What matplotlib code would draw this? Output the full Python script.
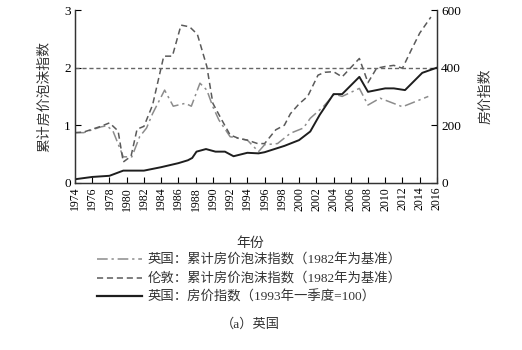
import matplotlib
matplotlib.use("Agg")
import matplotlib.pyplot as plt
from matplotlib.lines import Line2D

FONT = ["Liberation Serif", "Noto Sans CJK SC"]
plt.rcParams["font.family"] = FONT
plt.rcParams["font.weight"] = "light"

# UK cumulative house-price bubble index (1982 base)
uk_bubble_years = [1974, 1975, 1976, 1977, 1977.7, 1978.4, 1979.2, 1979.6, 1980.6,
                   1981.5, 1982.3, 1983, 1984.4, 1985.4, 1986.8, 1987.5, 1988.5,
                   1989.3, 1990, 1990.7, 1992, 1993, 1994, 1995.3, 1996, 1997.5,
                   1999, 2000.5, 2001.3, 2002.8, 2004.1, 2005, 2007, 2008, 2009.4,
                   2012, 2015]
uk_bubble = [0.87, 0.87, 0.92, 0.97, 0.99, 0.90, 0.60, 0.45, 0.45,
             0.80, 0.95, 1.20, 1.61, 1.33, 1.38, 1.33, 1.73,
             1.61, 1.32, 1.09, 0.80, 0.77, 0.74, 0.54, 0.66, 0.68,
             0.86, 0.95, 1.12, 1.32, 1.54, 1.50, 1.64, 1.35, 1.47,
             1.32, 1.50]

# London cumulative house-price bubble index (1982 base)
ldn_bubble_years = [1974, 1975, 1976, 1977, 1978, 1979, 1979.6, 1980.5, 1981.2,
                    1982, 1983, 1984.3, 1985.3, 1986.3, 1987.3, 1988.2, 1989.3,
                    1990, 1991, 1992, 1993, 1994, 1995.2, 1996, 1997.3, 1998.3,
                    1999, 2000, 2001, 2002.2, 2003, 2004, 2005, 2006, 2007, 2008,
                    2009, 2010, 2011, 2012, 2013, 2014, 2015.3]
ldn_bubble = [0.87, 0.88, 0.93, 0.98, 1.04, 0.90, 0.36, 0.46, 0.93,
              0.98, 1.35, 2.20, 2.20, 2.74, 2.71, 2.58, 2.02,
              1.38, 1.10, 0.83, 0.77, 0.74, 0.68, 0.68, 0.92, 1.00,
              1.20, 1.37, 1.50, 1.87, 1.92, 1.93, 1.84, 2.00, 2.16, 1.74,
              1.99, 2.02, 2.04, 1.99, 2.30, 2.60, 2.88]

# UK house price index (1993 Q1 = 100)
hpi_years = [1974, 1976, 1978, 1979.6, 1982, 1984, 1986, 1987.1, 1987.6, 1988.1,
             1989.2, 1990.3, 1991.4, 1992.4, 1994, 1995.3, 1996, 1998.3, 2000,
             2001.3, 2002.4, 2004, 2005, 2007, 2008, 2010, 2011, 2012.3, 2014.3,
             2016]
hpi = [12, 20, 24, 42, 42, 54, 68, 78, 86, 108,
       117, 108, 108, 92, 104, 102, 106, 128, 148,
       178, 236, 308, 308, 368, 316, 328, 328, 322, 382,
       400]

bubble_threshold = 2
xtick_years = list(range(1974, 2017, 2))
legend_labels = ["英国：累计房价泡沫指数（1982年为基准）",
                 "伦敦：累计房价泡沫指数（1982年为基准）",
                 "英国：房价指数（1993年一季度=100）"]

fig = plt.figure(figsize=(5.22, 3.5), dpi=100)
ax = fig.add_axes([0.1437, 0.478, 0.6933, 0.493])
ax2 = ax.twinx()

c_uk, c_ldn, c_hpi = "#8c8c8c", "#5a5a5a", "#1e1e1e"
ax.plot(uk_bubble_years, uk_bubble, color=c_uk, lw=1.1, dashes=(7, 2.5, 1.5, 2.5))
ax.plot(ldn_bubble_years, ldn_bubble, color=c_ldn, lw=1.1, dashes=(4, 2.5))
ax.axhline(bubble_threshold, color="#666666", lw=1.0, dashes=(3, 2))
ax2.plot(hpi_years, hpi, color=c_hpi, lw=1.4)

ax.set_xlim(1974, 2016)
ax.set_ylim(0, 3)
ax2.set_ylim(0, 600)
ax.set_yticks([0, 1, 2, 3])
ax2.set_yticks([0, 200, 400, 600])
ax.set_xticks(xtick_years)
ax.set_xticklabels([str(y) for y in xtick_years], rotation=90, fontsize=8.5)
ax.tick_params(axis="y", labelsize=9.5, direction="in", length=4, width=0.8, pad=3)
ax.tick_params(axis="x", direction="in", length=4, width=0.8, pad=3)
ax2.tick_params(axis="y", labelsize=9.5, direction="in", length=4, width=0.8, pad=3)

for a in (ax, ax2):
    a.spines["top"].set_visible(False)
    for s in ("left", "right", "bottom"):
        a.spines[s].set_linewidth(0.9)
        a.spines[s].set_color("#333333")

ax.set_ylabel("累计房价泡沫指数", fontsize=10, color="#333333", labelpad=9)
ax2.set_ylabel("房价指数", fontsize=10, color="#333333", rotation=90, labelpad=13)
fig.text(0.479, 0.305, "年份", ha="center", va="center", fontsize=10, color="#333333")

handles = [Line2D([], [], color=c_uk, lw=1.1, dashes=(7, 2.5, 1.5, 2.5)),
           Line2D([], [], color=c_ldn, lw=1.1, dashes=(4, 2.5)),
           Line2D([], [], color=c_hpi, lw=1.6)]
fig.legend(handles, legend_labels, loc="upper left", bbox_to_anchor=(0.175, 0.29),
           frameon=False, fontsize=9.6, handlelength=3.4, handletextpad=0.4,
           labelspacing=0.4, borderaxespad=0, labelcolor="#333333")

fig.text(0.479, 0.072, "（a）英国", ha="center", va="center", fontsize=9.5, color="#333333")

fig.savefig("out.png", dpi=100)
